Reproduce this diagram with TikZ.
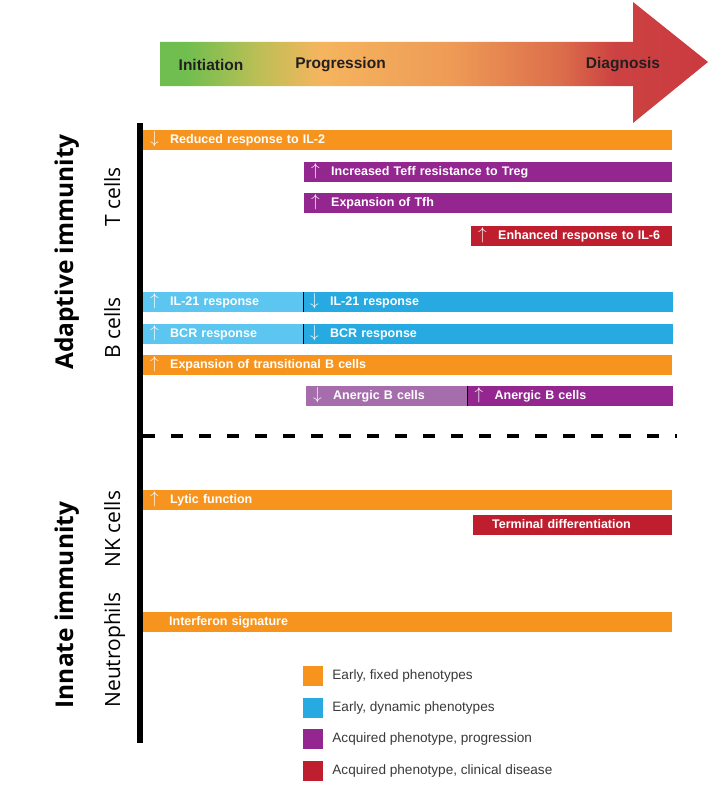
\documentclass[tikz,border=0pt]{standalone}
\usepackage{fontspec}
\setmainfont{Liberation Sans}
\newfontfamily\sidefont{Open Sans}
\usetikzlibrary{positioning}

\definecolor{early}{HTML}{F7941E}
\definecolor{dynamic}{HTML}{27AAE1}
\definecolor{dynamiclt}{HTML}{5DC6F0}
\definecolor{acquired}{HTML}{93278F}
\definecolor{acquiredlt}{HTML}{A66DAD}
\definecolor{clinical}{HTML}{BE1E2D}
\definecolor{labeltext}{HTML}{231F20}
\definecolor{keytext}{HTML}{3A3A3A}

\pgfdeclarehorizontalshading{timeline}{100bp}{%
  color(0bp)=({rgb,255:red,111;green,190;blue,79}); color(25bp)=({rgb,255:red,111;green,190;blue,79});
  color(27.3bp)=({rgb,255:red,111;green,190;blue,79});
  color(34.1bp)=({rgb,255:red,189;green,191;blue,85});
  color(39.6bp)=({rgb,255:red,245;green,181;blue,94});
  color(51.5bp)=({rgb,255:red,238;green,155;blue,86});
  color(61.5bp)=({rgb,255:red,220;green,110;blue,75});
  color(66.5bp)=({rgb,255:red,204;green,66;blue,66});
  color(75bp)=({rgb,255:red,202;green,58;blue,63});
  color(100bp)=({rgb,255:red,202;green,58;blue,63})}

\newcommand{\upar}{\makebox[20pt][l]{\fontsize{16}{16}\selectfont$\uparrow$}}
\newcommand{\dnar}{\makebox[20pt][l]{\fontsize{16}{16}\selectfont$\downarrow$}}

\begin{document}
\begin{tikzpicture}[x=1pt,y=-1pt,
    bar/.style={anchor=west, fill=#1, text=white, align=left,
      font=\bfseries\fontsize{12.5}{14}\selectfont,
      minimum height=20pt, inner xsep=7pt, inner ysep=0pt,
      text height=9pt, text depth=2.5pt},
    stagelabel/.style={font=\bfseries\fontsize{15.5}{18}\selectfont, text=labeltext},
    immunity/.style={rotate=90, anchor=base, font=\sidefont\bfseries\fontsize{24.5}{28}\selectfont},
    celltype/.style={rotate=90, anchor=base, font=\sidefont\fontsize{21}{24}\selectfont},
    keybox/.style={minimum size=20pt, inner sep=0pt, draw=none},
    keylabel/.style={anchor=west, inner sep=0pt, text=keytext,
      font=\fontsize{13.6}{15}\selectfont}]
  \fill[white] (0,0) rectangle (725,792);
  \useasboundingbox (0,0) rectangle (725,792);

  % Timeline arrow
  \shade[shading=timeline] (160,42) -- (633,42) -- (633,2) -- (708,62)
    -- (633,123) -- (633,86) -- (160,86) -- cycle;
  \node[stagelabel] (init) at (211,65) {Initiation};
  \node[stagelabel] (prog) at (340.5,65) {Progression};
  \node[stagelabel] (diag) at (623,65) {Diagnosis};

  % T cells
  \node[bar=early, text width=515pt] (il2) at (143,140) {\dnar Reduced response to IL-2};
  \node[bar=acquired, text width=354pt] (treg) at (304,172) {\upar Increased Teff resistance to Treg};
  \node[bar=acquired, text width=354pt] (tfh) at (304,203) {\upar Expansion of Tfh};
  \node[bar=clinical, text width=187pt] (il6) at (471,236) {\upar Enhanced response to IL-6};

  % B cells
  \node[bar=dynamiclt, text width=145.5pt] (il21up) at (143,302) {\upar IL-21 response};
  \node[bar=dynamic, text width=355.5pt, right=0pt of il21up] (il21dn) {\dnar IL-21 response};
  \node[bar=dynamiclt, text width=145.5pt] (bcrup) at (143,334) {\upar BCR response};
  \node[bar=dynamic, text width=355.5pt, right=0pt of bcrup] (bcrdn) {\dnar BCR response};
  \node[bar=early, text width=515pt] (trans) at (143,365) {\upar Expansion of transitional B cells};
  \node[bar=acquiredlt, text width=147pt] (anergdn) at (306,396) {\dnar Anergic B cells};
  \node[bar=acquired, text width=191pt, right=0pt of anergdn] (anergup) {\upar Anergic B cells};
  \draw[line width=0.8pt] (il21dn.north west) -- (il21dn.south west);
  \draw[line width=0.8pt] (bcrdn.north west) -- (bcrdn.south west);
  \draw[line width=0.8pt] (anergup.north west) -- (anergup.south west);

  % Adaptive / innate divide
  \coordinate (splitl) at (142.5,436);
  \coordinate (splitr) at (677,436);
  \draw[line width=3.3pt, dash pattern=on 12.5pt off 15.5pt] (splitl) -- (splitr);

  % NK cells and neutrophils
  \node[bar=early, text width=515pt] (lytic) at (143,500) {\upar Lytic function};
  \node[bar=clinical, text width=185pt] (term) at (473,525) {\hspace{12pt}Terminal differentiation};
  \node[bar=early, text width=515pt] (ifn) at (143,622) {\hspace{19pt}Interferon signature};

  % Axis
  \coordinate (axtop) at (140,123);
  \coordinate (axbot) at (140,743);
  \draw[line width=6pt] (axtop) -- (axbot);

  % Side labels
  \node[immunity] (adaptive) at (73,252) {Adaptive immunity};
  \node[immunity] (innate) at (73,605) {Innate immunity};
  \node[celltype] (tcells) at (120,197) {T cells};
  \node[celltype] (bcells) at (120,328) {B cells};
  \node[celltype] (nkcells) at (120,529) {NK cells};
  \node[celltype] (neutro) at (120,650) {Neutrophils};

  % Legend
  \node[keybox, fill=early] (kearly) at (313,676) {};
  \node[keybox, fill=dynamic] (kdyn) at (313,708) {};
  \node[keybox, fill=acquired] (kacq) at (313,739) {};
  \node[keybox, fill=clinical] (kclin) at (313,771) {};
  \node[keylabel, right=9pt of kearly] (learly) {Early, fixed phenotypes};
  \node[keylabel, right=9pt of kdyn] (ldyn) {Early, dynamic phenotypes};
  \node[keylabel, right=9pt of kacq] (lacq) {Acquired phenotype, progression};
  \node[keylabel, right=9pt of kclin] (lclin) {Acquired phenotype, clinical disease};
\end{tikzpicture}
\end{document}
